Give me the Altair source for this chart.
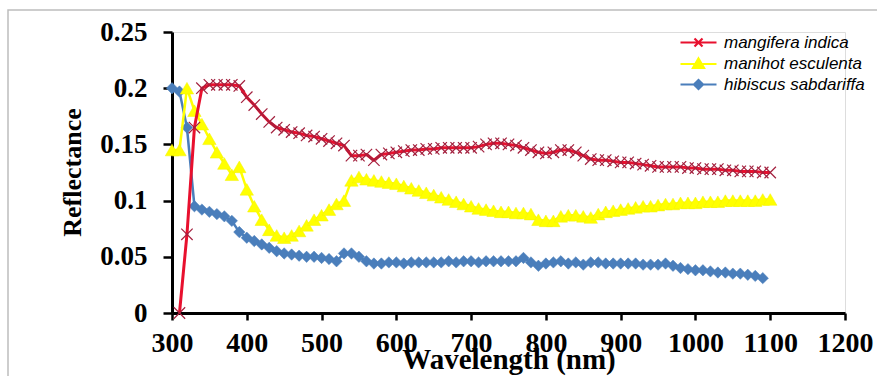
import altair as alt
import pandas as pd

# ---------------- data ----------------
series_names = ["mangifera indica", "manihot esculenta", "hibiscus sabdariffa"]
series_colors = ["#E8102E", "#FFFF00", "#4A7EBB"]

mangifera_wl = list(range(310, 1101, 10))
mangifera_r = [
    0.000, 0.070, 0.165, 0.200, 0.203, 0.203, 0.203, 0.203, 0.202, 0.192,
    0.185, 0.177, 0.170, 0.165, 0.163, 0.161, 0.160, 0.158, 0.157, 0.155,
    0.153, 0.151, 0.149, 0.140, 0.140, 0.141, 0.136, 0.141, 0.142, 0.143,
    0.144, 0.145, 0.145, 0.146, 0.146, 0.147, 0.147, 0.147, 0.147, 0.147,
    0.148, 0.150, 0.151, 0.151, 0.150, 0.149, 0.147, 0.145, 0.143, 0.142,
    0.143, 0.145, 0.145, 0.143, 0.140, 0.137, 0.136, 0.136, 0.135, 0.134,
    0.134, 0.133, 0.132, 0.131, 0.130, 0.130, 0.130, 0.130, 0.129, 0.129,
    0.128, 0.128, 0.128, 0.127, 0.127, 0.126, 0.126, 0.126, 0.125, 0.125,
]

manihot_wl = list(range(300, 1101, 10))
manihot_r = [
    0.145, 0.145, 0.200, 0.180, 0.168, 0.155, 0.143, 0.133, 0.123, 0.130,
    0.110, 0.095, 0.083, 0.074, 0.069, 0.067, 0.069, 0.073, 0.078, 0.083,
    0.087, 0.092, 0.097, 0.100, 0.118, 0.121, 0.119, 0.118, 0.117, 0.116,
    0.115, 0.113, 0.111, 0.109, 0.107, 0.105, 0.103, 0.101, 0.099, 0.097,
    0.095, 0.093, 0.092, 0.091, 0.090, 0.090, 0.089, 0.089, 0.088, 0.083,
    0.082, 0.082, 0.086, 0.087, 0.087, 0.086, 0.085, 0.088, 0.090, 0.091,
    0.092, 0.093, 0.094, 0.095, 0.095, 0.096, 0.097, 0.097, 0.098, 0.098,
    0.098, 0.099, 0.099, 0.099, 0.100, 0.100, 0.100, 0.100, 0.100, 0.101,
    0.101,
]

hibiscus_wl = list(range(300, 1091, 10))
hibiscus_r = [
    0.200, 0.197, 0.165, 0.095, 0.092, 0.090, 0.088, 0.086, 0.082, 0.072,
    0.067, 0.064, 0.061, 0.058, 0.055, 0.053, 0.052, 0.051, 0.050, 0.050,
    0.049, 0.048, 0.046, 0.053, 0.053, 0.050, 0.046, 0.044, 0.044, 0.045,
    0.045, 0.044, 0.045, 0.045, 0.045, 0.045, 0.045, 0.046, 0.045, 0.046,
    0.046, 0.045, 0.046, 0.046, 0.046, 0.046, 0.046, 0.049, 0.045, 0.042,
    0.044, 0.045, 0.046, 0.044, 0.045, 0.043, 0.045, 0.045, 0.044, 0.044,
    0.044, 0.044, 0.044, 0.043, 0.043, 0.043, 0.044, 0.042, 0.040, 0.039,
    0.038, 0.038, 0.037, 0.036, 0.036, 0.035, 0.035, 0.034, 0.033, 0.031,
]

x_ticks = [300, 400, 500, 600, 700, 800, 900, 1000, 1100, 1200]
y_ticks = [0, 0.05, 0.1, 0.15, 0.2, 0.25]

frames = []
for name, wl, r in [
    (series_names[2], hibiscus_wl, hibiscus_r),
    (series_names[1], manihot_wl, manihot_r),
    (series_names[0], mangifera_wl, mangifera_r),
]:
    frames.append(pd.DataFrame({"species": name, "wl": wl, "r": r}))
df = pd.concat(frames, ignore_index=True)

# ---------------- encodings ----------------
SERIF = "Liberation Serif"
x_enc = alt.X(
    "wl:Q",
    scale=alt.Scale(domain=[300, 1200], nice=False, zero=False),
    axis=alt.Axis(
        values=x_ticks, format="d", grid=False,
        domainColor="black", domainWidth=3, tickColor="black", tickWidth=2.5,
        tickSize=7, labelFont=SERIF, labelFontWeight="bold", labelFontSize=28,
        labelColor="black", labelPadding=9, labelFlush=False, labelOverlap=False,
        title="Wavelength (nm)", titleFont=SERIF, titleFontWeight="bold",
        titleFontSize=29, titleColor="black", titleBaseline="alphabetic",
        titleY=55,
    ),
)
y_enc = alt.Y(
    "r:Q",
    scale=alt.Scale(domain=[0, 0.25], nice=False),
    axis=alt.Axis(
        values=y_ticks, format=".2~f", grid=False,
        domainColor="black", domainWidth=3, tickColor="black", tickWidth=2.5,
        tickSize=9, labelFont=SERIF, labelFontWeight="bold", labelFontSize=27,
        labelColor="black", labelPadding=16, labelFlush=False, labelOverlap=False,
        title="Reflectance", titleFont=SERIF, titleFontWeight="bold",
        titleFontSize=26, titleColor="black", titleBaseline="alphabetic",
        titleX=-92, titleY=140, titleAngle=-90, titleAnchor="middle",
    ),
)

# legend symbols: a short line with the series marker on it
legend_shapes = [
    "M-3.6,0L3.6,0M-0.8,-0.8L0.8,0.8M-0.8,0.8L0.8,-0.8",
    "M-3.6,0L3.6,0M0,-1.1L1.1,0.8L-1.1,0.8Z",
    "M-3.6,0L3.6,0M0,-0.9L0.9,0L0,0.9L-0.9,0Z",
]
legend_fills = ["transparent", "#FFFF00", "#4A7EBB"]

legend = alt.Legend(
    title=None, orient="none", legendX=518, legendY=2, padding=0,
    labelFont="Liberation Sans", labelFontStyle="italic", labelFontSize=17,
    labelColor="black", labelOffset=17, rowPadding=2.5,
    symbolSize=100, symbolStrokeWidth=2.2, symbolOpacity=1,
)

marker_style = {
    "mangifera indica": dict(shape="M-1,-1L1,1M-1,1L1,-1", size=130, filled=False,
                             stroke="#A3203E", strokeWidth=1.2, opacity=1),
    "manihot esculenta": dict(shape="triangle-up", size=180, filled=True,
                              fill="#FFFF00", stroke="#F2F200", strokeWidth=0.5, opacity=1),
    "hibiscus sabdariffa": dict(shape="diamond", size=130, filled=True,
                                fill="#4A7EBB", stroke="#4A7EBB", strokeWidth=0.5, opacity=1),
}
line_width = {"mangifera indica": 3, "manihot esculenta": 2.5, "hibiscus sabdariffa": 2.5}
color_of = dict(zip(series_names, series_colors))

base = alt.Chart(df)
layers = []
for name in [series_names[2], series_names[1], series_names[0]]:
    sub = base.transform_filter(alt.datum.species == name)
    layers.append(
        sub.mark_line(strokeWidth=line_width[name], color=color_of[name]).encode(x=x_enc, y=y_enc)
    )
    layers.append(
        sub.mark_point(**marker_style[name]).encode(x=x_enc, y=y_enc)
    )

# invisible layer that carries the legend
legend_layer = base.mark_point(opacity=0).encode(
    x=x_enc, y=y_enc,
    stroke=alt.Stroke("species:N", scale=alt.Scale(domain=series_names, range=series_colors), legend=legend),
    fill=alt.Fill("species:N", scale=alt.Scale(domain=series_names, range=legend_fills), legend=legend),
    shape=alt.Shape("species:N", scale=alt.Scale(domain=series_names, range=legend_shapes), legend=legend),
)

frame = alt.Chart(pd.DataFrame({"k": [0]})).mark_rect(
    fill="transparent", stroke="#BDBDBD", strokeWidth=1.5
).encode(
    x=alt.value(-164), x2=alt.value(720), y=alt.value(-22), y2=alt.value(360)
)

chart = alt.layer(frame, *layers, legend_layer).properties(
    width=673, height=281,
    padding={"left": 172, "top": 32, "right": 32, "bottom": 63},
    autosize=alt.AutoSizeParams(type="none"),
).configure_view(stroke=None).configure(background="white")

chart.save("out.html", embed_options={"renderer": "svg", "actions": False})
